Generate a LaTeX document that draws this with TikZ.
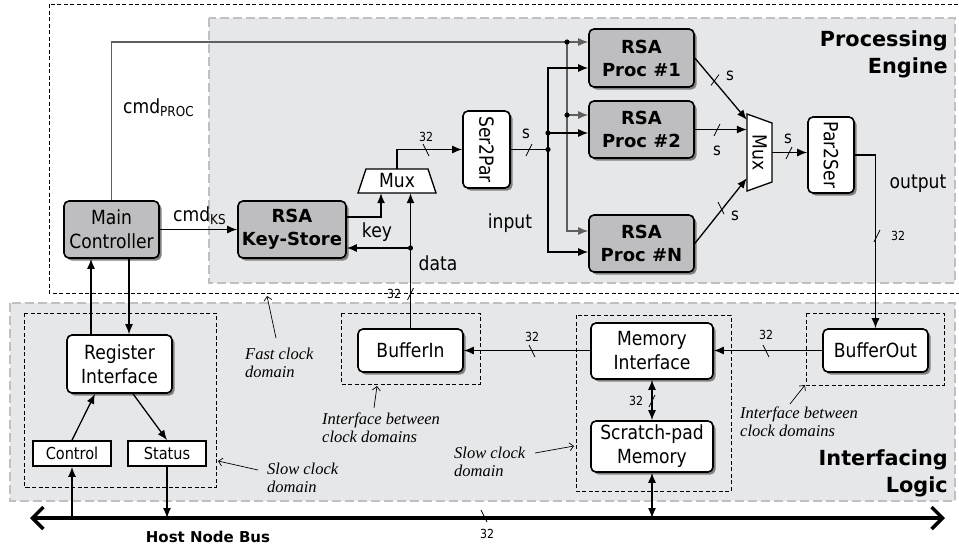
\documentclass[tikz,border=0pt]{standalone}
\usepackage{fontspec}
\usepackage{graphicx}
\setmainfont{DejaVu Sans}
\newfontfamily\boxfont{DejaVu Sans}[FakeStretch = 0.88]
\newfontfamily\notefont{Liberation Serif}
\usetikzlibrary{arrows.meta}
\usetikzlibrary{shadows}
\usetikzlibrary{calc}
\definecolor{areafill}{RGB}{230,231,233}
\definecolor{areaedge}{RGB}{192,192,194}
\definecolor{rsafill}{RGB}{190,190,192}
\definecolor{cmdgray}{RGB}{95,95,95}
\def\boxtext{\boxfont\fontsize{19.5}{24}\selectfont}
\def\rsatext{\bfseries\fontsize{18}{23}\selectfont}
\def\porttext{\boxfont\fontsize{16.5}{20}\selectfont}
\def\smalltext{\boxfont\fontsize{12.5}{14}\selectfont}
\def\stext{\boxfont\fontsize{17}{18}\selectfont}
\def\notetext{\notefont\itshape\fontsize{16.5}{18.5}\selectfont}
\def\titletext{\bfseries\fontsize{20.8}{27}\selectfont}

\tikzset{
  area/.style = {fill = areafill, draw = areaedge, line width = 2.8pt,
    dash pattern = on 9pt off 4pt},
  clockline/.style = {draw = black, line width = 0.7pt,
    dash pattern = on 4pt off 2.5pt},
  unit/.style = {draw, line width = 1.6pt, rounded corners = 5pt,
    fill = white, align = center, inner sep = 0pt, font = \boxtext,
    drop shadow = {shadow xshift = 2.5pt, shadow yshift = -2.5pt,
      fill = black!50, opacity = 1}},
  grayunit/.style = {unit, fill = rsafill},
  rsaunit/.style = {grayunit, font = \rsatext},
  port/.style = {draw, line width = 1.8pt, fill = white, inner sep = 0pt,
    font = \porttext, minimum width = 78pt, minimum height = 25pt},
  muxline/.style = {draw, line width = 1.3pt, fill = white},
  muxlabel/.style = {inner sep = 0pt, font = \boxtext},
  wire/.style = {line width = 1.3pt},
  cmdline/.style = {line width = 1.2pt, draw = cmdgray},
  bus/.style = {line width = 3.5pt,
    {Straight Barb[length = 11pt, width = 22pt]}-{Straight Barb[length = 11pt, width = 22pt]}},
  wirelabel/.style = {inner sep = 0pt, font = \boxtext},
  widthlabel/.style = {inner sep = 0pt, font = \smalltext},
  slabel/.style = {inner sep = 0pt, font = \stext},
  note/.style = {inner sep = 0pt, align = left, font = \notetext},
  areatitle/.style = {inner sep = 0pt, align = right, font = \titletext},
  pointer/.style = {line width = 0.7pt,
    -{Straight Barb[length = 4pt, width = 8pt]}},
  cutl/.pic = {\draw[line width = 0.8pt] (-3, -6) -- (3, 6);},
  cutr/.pic = {\draw[line width = 0.8pt] (-3, 6) -- (3, -6);}
}

\begin{document}
\begin{tikzpicture}[x = 1pt, y = -1pt, >={Latex[length = 10pt, width = 8pt]}]
    \useasboundingbox (0, 0) rectangle (959, 550);

    \draw[clockline] (49, 4) rectangle (975, 293);
    \filldraw[area] (209, 18) rectangle (955, 283);
    \filldraw[area] (10, 303) rectangle (955, 501);

    \draw[clockline] (24, 313) rectangle (216, 487);
    \draw[clockline] (341, 313) rectangle (480, 384);
    \draw[clockline] (576, 315) rectangle (731, 491);
    \draw[clockline] (806, 313) rectangle (944, 385);

    \node[areatitle, anchor = north east] (petitle) at (948, 30) {Processing\\Engine};
    \node[areatitle, anchor = south east] (iltitle) at (948, 497) {Interfacing\\Logic};

    \node[grayunit, minimum width = 95pt, minimum height = 57pt] (mc)
      at (111.5, 229.5) {Main\\Controller};
    \node[rsaunit, minimum width = 108pt, minimum height = 57pt] (ks)
      at (292, 229.5) {RSA\\Key-Store};
    \node[unit, minimum width = 47pt, minimum height = 77pt] (s2p)
      at (486.5, 149.5) {\rotatebox{-90}{Ser2Par}};
    \node[rsaunit, minimum width = 105pt, minimum height = 58pt] (p1)
      at (641.5, 58) {RSA\\Proc \#1};
    \node[rsaunit, minimum width = 105pt, minimum height = 57pt] (p2)
      at (641.5, 129.5) {RSA\\Proc \#2};
    \node[rsaunit, minimum width = 105pt, minimum height = 57pt] (pn)
      at (641.5, 243.5) {RSA\\Proc \#N};
    \node[unit, minimum width = 46pt, minimum height = 76pt] (p2s)
      at (831, 155) {\rotatebox{-90}{Par2Ser}};

    \filldraw[muxline] (358, 193) -- (366, 169) -- (428, 169) -- (436, 193) -- cycle;
    \node[muxlabel, minimum width = 78pt, minimum height = 24pt] (muxk)
      at (397, 181) {Mux};
    \filldraw[muxline] (747, 114) -- (772, 123) -- (772, 182) -- (747, 191) -- cycle;
    \node[muxlabel, minimum width = 25pt, minimum height = 77pt] (muxp)
      at (759.5, 152.5) {\rotatebox{-90}{Mux}};

    \node[unit, minimum width = 105pt, minimum height = 58pt] (ri)
      at (119.5, 364) {Register\\Interface};
    \node[port] (ctl) at (72, 453.5) {Control};
    \node[port] (sts) at (167, 453.5) {Status};
    \node[unit, minimum width = 105pt, minimum height = 43pt] (bin)
      at (410.5, 350.5) {BufferIn};
    \node[unit, minimum width = 122pt, minimum height = 56pt] (mi)
      at (652, 351) {Memory\\Interface};
    \node[unit, minimum width = 122pt, minimum height = 51pt] (sp)
      at (652, 446.5) {Scratch-pad\\Memory};
    \node[unit, minimum width = 105pt, minimum height = 43pt] (bout)
      at (875.5, 350.5) {BufferOut};

    \coordinate (cmdsplit) at (567, 42);
    \coordinate (cmdtap) at (567, 115);
    \draw[cmdline, ->] (mc.north) |- (cmdsplit) -- (cmdsplit -| p1.west);
    \draw[cmdline, ->] (cmdsplit) |- ($(pn.west) + (0, -12.5)$);
    \draw[cmdline, ->] (cmdtap) -- (cmdtap -| p2.west);
    \fill (cmdsplit) circle (2.6);
    \fill (cmdtap) circle (2.6);

    \draw[wire, ->] (mc.east) -- (ks.west);
    \draw[wire, ->] ($(ks.east) + (0, -12.5)$) -| ($(muxk.south) + (-16, 0)$);
    \coordinate (datasplit) at (410.5, 248);
    \draw[wire, ->] (bin.north) -- (bin.north |- muxk.south);
    \draw[wire, ->] (datasplit) -- (datasplit -| ks.east);
    \fill (datasplit) circle (2.6);
    \draw[wire, ->] (muxk.north) |- (s2p.west);

    \coordinate (insplit) at (548, 149.5);
    \coordinate (intap) at (548, 133);
    \draw[wire] (s2p.east) -- (insplit);
    \draw[wire, ->] (insplit) |- ($(p1.west) + (0, 10)$);
    \draw[wire, ->] (insplit) |- ($(pn.west) + (0, 8.5)$);
    \draw[wire, ->] (intap) -- (intap -| p2.west);
    \fill (insplit) circle (2.6);
    \fill (intap) circle (2.6);

    \draw[wire, ->] (p1.east) -- ($(muxp.north west) + (0, 6)$);
    \draw[wire, ->] (p2.east) -- (p2.east -| muxp.west);
    \draw[wire, ->] (pn.east) -- ($(muxp.south west) + (0, -13)$);
    \draw[wire, ->] (muxp.east) -- (muxp.east -| p2s.west);
    \draw[wire, ->] (p2s.east) -| (bout.north);

    \draw[wire, ->] (bout.west) -- (bout.west -| mi.east);
    \draw[wire, ->] (mi.west |- bin.east) -- (bin.east);
    \draw[wire, <->] (mi.south) -- (sp.north);

    \coordinate (busl) at (30, 518);
    \coordinate (busr) at (945, 518);
    \draw[bus] (busl) -- (busr);
    \draw[wire, <->] (sp.south) -- (sp.south |- busl);
    \draw[wire, ->] (ctl.south |- busl) -- (ctl.south);
    \draw[wire, ->] (sts.south) -- (sts.south |- busl);

    \coordinate (regdown) at ($(mc.south) + (17.5, 0)$);
    \coordinate (regup) at ($(ri.north) + (-28.5, 0)$);
    \draw[wire, ->] (regdown) -- (regdown |- ri.north);
    \draw[wire, ->] (regup) -- (regup |- mc.south);
    \draw[wire, ->] (ctl.north) -- ($(ri.south) + (-24.5, 0)$);
    \draw[wire, ->] ($(ri.south) + (13.5, 0)$) -- (sts.north);

    \node[wirelabel, anchor = base west] (lcmdproc) at (123, 113) {cmd\textsubscript{PROC}};
    \node[wirelabel, anchor = base west] (lcmdks) at (173, 221) {cmd\textsubscript{KS}};
    \node[wirelabel, anchor = base] (lkey) at (377, 237) {key};
    \node[wirelabel, anchor = base] (ldata) at (438, 270) {data};
    \node[wirelabel, anchor = base] (linput) at (510, 228) {input};
    \node[wirelabel, anchor = base] (loutput) at (918, 188) {output};

    \pic at (426, 150) {cutl};
    \node[widthlabel] (w1) at (426, 137) {32};
    \pic at (529, 150) {cutr};
    \node[slabel] (w2) at (526, 134) {s};
    \pic[rotate = -10] at (715, 80) {cutr};
    \node[slabel] (w3) at (730, 76) {s};
    \pic at (717, 130) {cutr};
    \node[slabel] (w4) at (717, 151) {s};
    \pic at (721, 208) {cutl};
    \node[slabel] (w5) at (735, 216) {s};
    \pic at (789, 153) {cutr};
    \node[slabel] (w6) at (788, 139) {s};
    \pic at (877, 236) {cutr};
    \node[widthlabel] (w7) at (898, 236) {32};
    \pic at (410.5, 294) {cutr};
    \node[widthlabel] (w8) at (394, 294) {32};
    \pic at (532, 351) {cutl};
    \node[widthlabel] (w9) at (532, 337) {32};
    \pic at (766, 351) {cutl};
    \node[widthlabel] (w10) at (766, 335) {32};
    \pic at (652, 401) {cutr};
    \node[widthlabel] (w11) at (636, 401) {32};
    \pic at (484, 516) {cutl};
    \node[widthlabel] (w12) at (487, 534) {32};

    \node[font = \bfseries\fontsize{15}{18}\selectfont, inner sep = 0pt] (lbus)
      at (208, 537) {Host Node Bus};

    \node[note, anchor = west] (nfast) at (245, 363) {Fast clock\\domain};
    \coordinate (fasttail) at (276, 338);
    \coordinate (fasttip) at (267, 296);
    \draw[pointer] (fasttail) -- (fasttip);
    \node[note, anchor = west] (nslowl) at (267, 478) {Slow clock\\domain};
    \coordinate (slowltail) at (258, 470);
    \coordinate (slowltip) at (218, 461);
    \draw[pointer] (slowltail) -- (slowltip);
    \node[note, anchor = west] (nifin) at (322, 428) {Interface between\\clock domains};
    \coordinate (ifintail) at (374, 408);
    \coordinate (ifintip) at (377, 386);
    \draw[pointer] (ifintail) -- (ifintip);
    \node[note, anchor = west] (nslowm) at (454, 462) {Slow clock\\domain};
    \coordinate (slowmtail) at (535, 453);
    \coordinate (slowmtip) at (574, 446);
    \draw[pointer] (slowmtail) -- (slowmtip);
    \node[note, anchor = west] (nifout) at (740, 422) {Interface between\\clock domains};
    \coordinate (ifouttail) at (790, 404);
    \coordinate (ifouttip) at (805, 385);
    \draw[pointer] (ifouttail) -- (ifouttip);
  \end{tikzpicture}
\end{document}
